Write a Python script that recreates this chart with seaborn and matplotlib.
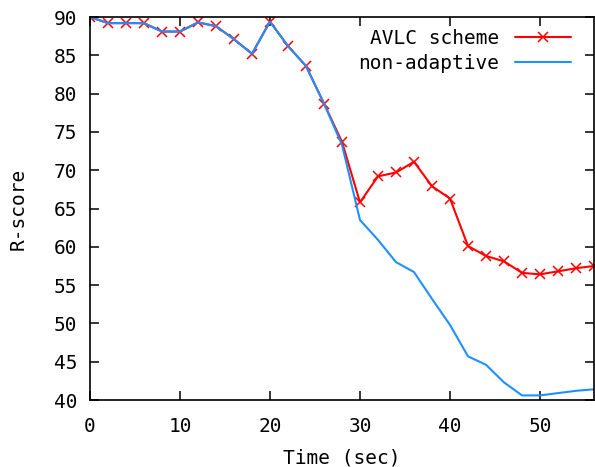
import matplotlib
matplotlib.use("Agg")
import matplotlib.pyplot as plt
import seaborn as sns
import pandas as pd

time_avlc = [0, 2, 4, 6, 8, 10, 12, 14, 16, 18, 20, 22, 24, 26, 28, 30, 32, 34, 36, 38, 40, 42, 44, 46, 48, 50, 52, 54, 56]
score_avlc = [90.0, 89.2, 89.2, 89.2, 88.1, 88.1, 89.3, 88.8, 87.1, 85.2, 89.4, 86.2, 83.6, 78.7, 73.7, 65.8, 69.2, 69.7, 71.1, 67.9, 66.3, 60.1, 58.8, 58.1, 56.6, 56.4, 56.8, 57.2, 57.5]

time_nonad = [0, 2, 4, 6, 8, 10, 12, 14, 16, 18, 20, 22, 24, 26, 28, 30, 32, 34, 36, 38, 40, 42, 44, 46, 48, 50, 52, 54, 56]
score_nonad = [90.0, 89.2, 89.2, 89.2, 88.1, 88.1, 89.3, 88.8, 87.1, 85.2, 89.4, 86.2, 83.6, 78.7, 73.3, 63.5, 60.9, 58.0, 56.7, 53.2, 49.8, 45.7, 44.6, 42.3, 40.6, 40.6, 40.9, 41.2, 41.4]

series_names = ["AVLC scheme", "non-adaptive"]
x_ticks = [0, 10, 20, 30, 40, 50]
y_ticks = [40, 45, 50, 55, 60, 65, 70, 75, 80, 85, 90]

df_a = pd.DataFrame({"Time": time_avlc, "Score": score_avlc})
df_n = pd.DataFrame({"Time": time_nonad, "Score": score_nonad})

sns.set_style("ticks")
plt.rcParams["font.family"] = ["DejaVu Sans Mono", "DejaVu Sans"]
plt.rcParams["text.color"] = "black"
plt.rcParams["axes.labelcolor"] = "black"

fig = plt.figure(figsize=(5.95, 4.67), dpi=100)
ax = fig.add_axes([90 / 595, 1 - 400 / 467, 504 / 595, 383 / 467])

sns.lineplot(data=df_a, x="Time", y="Score", ax=ax, color="#ff0000", linewidth=1.5,
             marker="x", markersize=7, markeredgewidth=1.1, markeredgecolor="#ff0000",
             label=series_names[0])
sns.lineplot(data=df_n, x="Time", y="Score", ax=ax, color="#1e90ff", linewidth=1.5,
             label=series_names[1])

ax.set_xlim(0, 56)
ax.set_ylim(40, 90)
ax.set_xticks(x_ticks)
ax.set_yticks(y_ticks)
ax.tick_params(direction="in", length=6.5, width=1.1, top=True, right=True,
               labelsize=14, colors="black")
ax.tick_params(axis="x", pad=12)
ax.tick_params(axis="y", pad=9)
for s in ax.spines.values():
    s.set_visible(True)
    s.set_linewidth(1.2)
    s.set_color("black")

ax.set_xlabel("Time (sec)", fontsize=14, labelpad=9, color="black")
ax.set_ylabel("R-score", fontsize=14, labelpad=19, color="black")

leg = ax.legend(loc="upper right", frameon=False, markerfirst=False, fontsize=14,
                handlelength=2.9, handletextpad=0.8, borderaxespad=0.3,
                labelspacing=0.3, bbox_to_anchor=(0.982, 1.005))
for t in leg.get_texts():
    t.set_color("black")

fig.savefig("out.png", dpi=100)
